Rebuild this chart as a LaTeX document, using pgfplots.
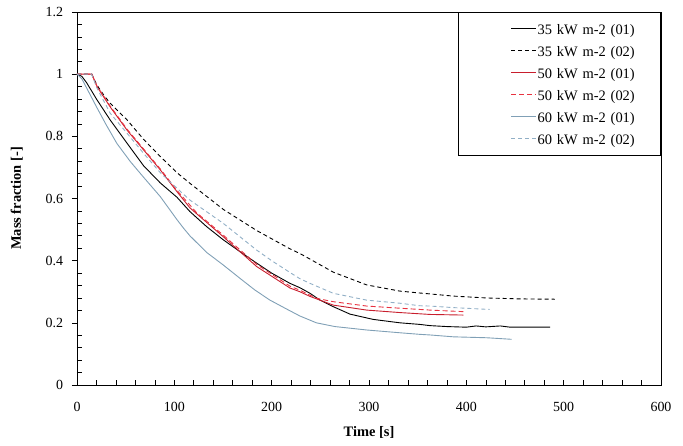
\documentclass[border=0pt]{standalone}
\usepackage{fontspec}
\setmainfont{Liberation Serif}
\usepackage{pgfplots}
\pgfplotsset{compat=1.18}
\definecolor{redA}{RGB}{200,30,45}
\definecolor{redB}{RGB}{232,50,64}
\definecolor{blueA}{RGB}{128,160,182}
\definecolor{blueB}{RGB}{145,175,198}
\begin{document}
\begin{tikzpicture}
\path[use as bounding box] (-77bp,-61bp) rectangle (606bp,385bp);
\begin{axis}[
  at={(0,0)}, anchor=south west,
  width=584bp, height=373bp, scale only axis,
  xmin=0, xmax=600, ymin=0, ymax=1.2,
  xtick={0,100,200,300,400,500,600},
  ytick={0,0.2,0.4,0.6,0.8,1,1.2},
  yticklabels={0,0.2,0.4,0.6,0.8,1,1.2},
  minor x tick num=4, minor y tick num=4,
  tick align=inside, tick pos=left,
  major tick length=5bp, minor tick length=5bp,
  major y tick style={xshift=-5bp},
  axis line style={line width=0.7bp},
  tick style={line width=0.6bp, black},
  /pgf/number format/assume math mode=true,
  ticklabel style={font=\fontsize{14}{16}\selectfont},
  xticklabel style={yshift=-13.5bp},
  yticklabel style={xshift=-10.5bp},
  xlabel={Time [s]}, ylabel={Mass fraction [-]},
  label style={font=\fontsize{14.5}{16}\selectfont\bfseries},
  xlabel style={at={(axis description cs:0.5,-0.126)}, anchor=center},
  ylabel style={at={(axis description cs:-0.103,0.5)}, anchor=center},
  legend cell align=left,
  legend style={at={(1,1)}, anchor=north east, draw=black, line width=0.6bp,
    inner xsep=0pt, inner ysep=5.5bp, row sep=0pt, column sep=1bp,
    font=\fontsize{14.5}{17}\selectfont,
    nodes={inner sep=0pt, text height=17bp, text depth=5bp, text width=123bp, align=left}},
  legend image code/.code={\path (0bp,0bp); \draw[#1] (52bp,0bp) -- (77bp,0bp);},
]
% 35 kW m-2 (01)
\addplot[black, line width=0.9bp] coordinates {
(0,1.0)(5,0.993)(10,0.972)(20,0.92)(34,0.853)(51.4,0.778)(68.5,0.705)(85.6,0.650)
(102.7,0.604)(116,0.558)(133,0.51)(150.3,0.467)(167,0.43)(184.6,0.392)(200,0.36)
(218.8,0.327)(229,0.313)(239.4,0.295)(249.7,0.273)(263.3,0.252)(280.5,0.228)
(304.4,0.211)(331.9,0.200)(352,0.195)(362.7,0.191)(380,0.188)(400,0.186)(410,0.190)
(420,0.187)(435,0.190)(445,0.186)(486,0.186)};
\addlegendentry{35 kW m-2 (01)}
% 35 kW m-2 (02)
\addplot[black, line width=0.9bp, dash pattern=on 4bp off 3bp] coordinates {
(0,1)(15,1)(20.5,0.965)(27.4,0.933)(34.2,0.906)(51.4,0.853)(68.5,0.790)(85.6,0.735)
(102.7,0.683)(116,0.649)(123.3,0.631)(150.3,0.565)(184.6,0.497)(218.8,0.438)
(229,0.423)(239.4,0.405)(263.3,0.363)(297.6,0.322)(331.9,0.302)(352,0.296)
(362.7,0.293)(386.6,0.286)(420.9,0.280)(455,0.277)(491,0.276)};
\addlegendentry{35 kW m-2 (02)}
% 50 kW m-2 (01)
\addplot[redA, line width=0.9bp] coordinates {
(0,1)(15.4,1)(20.5,0.960)(34,0.895)(51.4,0.820)(68.5,0.756)(85.6,0.692)(102.7,0.622)
(116,0.570)(123.3,0.550)(150.3,0.477)(184.6,0.381)(218.8,0.312)(229,0.300)(239.4,0.285)
(263.3,0.257)(297.6,0.241)(331.9,0.233)(362.7,0.227)(380,0.226)(397,0.225)};
\addlegendentry{50 kW m-2 (01)}
% 50 kW m-2 (02)
\addplot[redB, line width=0.9bp, dash pattern=on 5bp off 3bp] coordinates {
(0,1)(15,1)(20.5,0.962)(34,0.898)(51.4,0.823)(68.5,0.759)(85.6,0.695)(102.7,0.626)
(123.3,0.553)(150.3,0.482)(184.6,0.388)(218.8,0.318)(229,0.305)(246,0.279)(263.3,0.268)
(297.6,0.254)(331.9,0.247)(362.7,0.241)(397,0.236)};
\addlegendentry{50 kW m-2 (02)}
% 60 kW m-2 (01)
\addplot[blueA, line width=0.9bp] coordinates {
(0,1)(5,0.985)(10,0.955)(20,0.895)(30,0.837)(41,0.777)(55,0.718)(68.5,0.668)(85.6,0.606)
(102.7,0.532)(109.6,0.504)(116,0.480)(133,0.427)(150.3,0.386)(167.5,0.343)(183,0.305)
(198.3,0.273)(215,0.245)(229,0.222)(246,0.200)(265,0.188)(297.6,0.177)(331.9,0.168)
(352,0.163)(362.7,0.161)(386.6,0.155)(421,0.152)(446.6,0.147)};
\addlegendentry{60 kW m-2 (01)}
% 60 kW m-2 (02)
\addplot[blueB, line width=0.9bp, dash pattern=on 4bp off 3bp] coordinates {
(0,1)(15,1)(20.5,0.955)(34.2,0.874)(51.4,0.81)(68.5,0.745)(85.6,0.683)(102.7,0.633)
(116,0.595)(123.3,0.579)(150.3,0.520)(184.6,0.434)(200,0.400)(218.8,0.362)(229,0.342)
(239.4,0.327)(263.3,0.295)(297.6,0.273)(331.9,0.263)(352,0.255)(362.7,0.254)
(386.6,0.249)(424,0.243)};
\addlegendentry{60 kW m-2 (02)}
\end{axis}
\end{tikzpicture}
\end{document}
